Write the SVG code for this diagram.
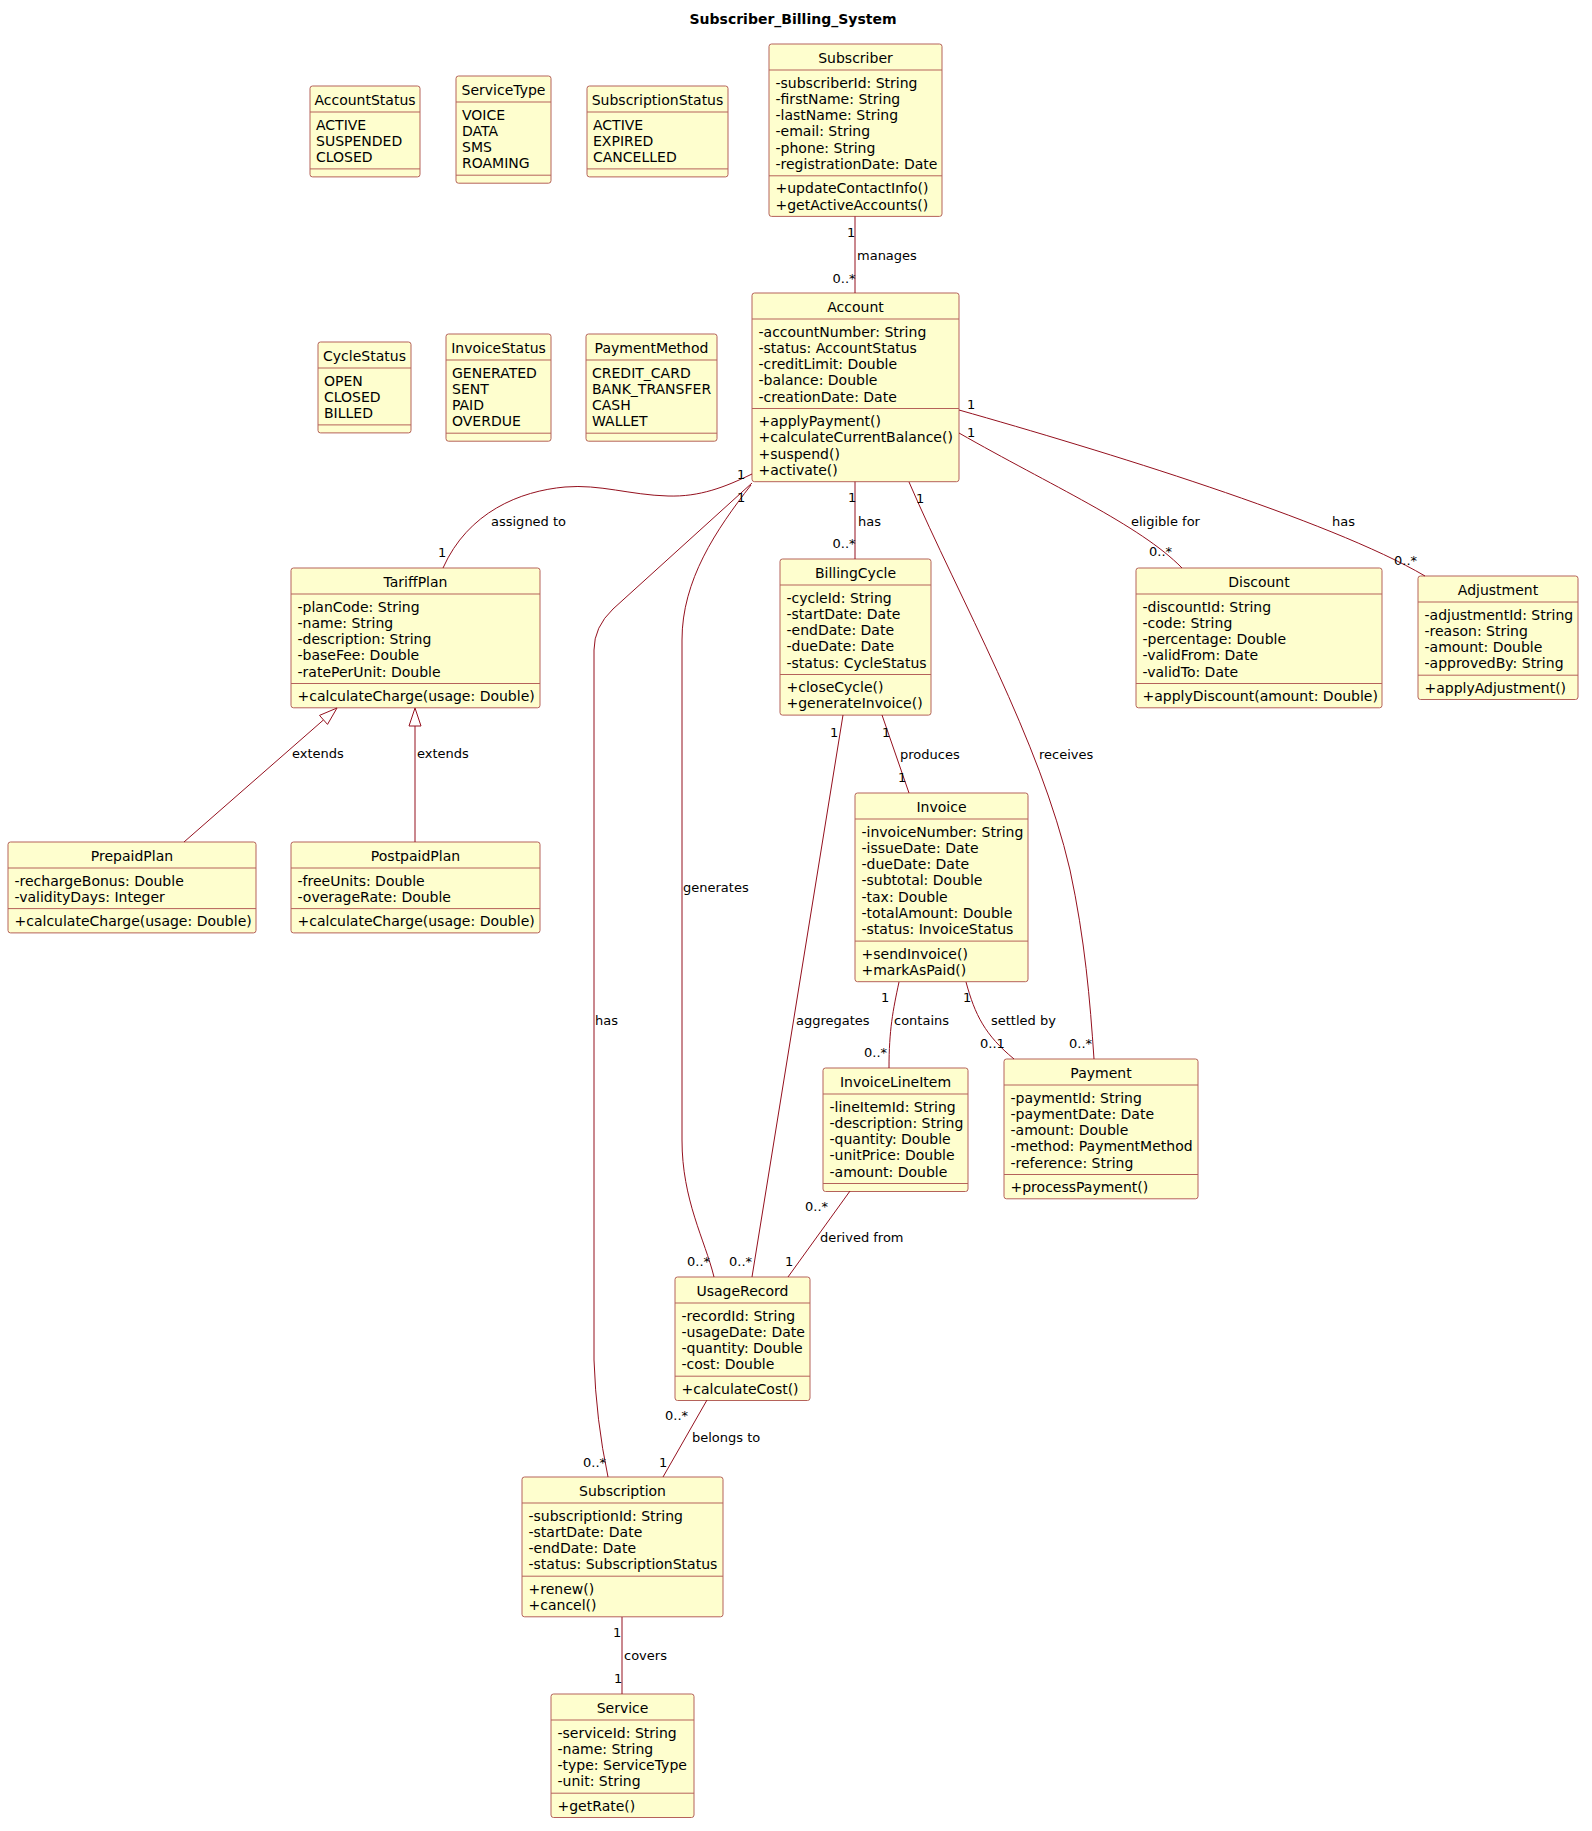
<svg xmlns="http://www.w3.org/2000/svg" width="1592" height="1831" viewBox="0 0 1592 1831">
<style>
.box{fill:#FEFECE;stroke:#B5625A;stroke-width:1}
.sep{stroke:#B5625A;stroke-width:1}
.nm{font-family:"DejaVu Sans",sans-serif;font-size:14px;fill:#000;text-anchor:middle}
.tx{font-family:"DejaVu Sans",sans-serif;font-size:14px;fill:#000}
.lbl{font-family:"DejaVu Sans",sans-serif;font-size:13px;fill:#000}
.ttl{font-family:"DejaVu Sans",sans-serif;font-size:14px;font-weight:bold;fill:#000;text-anchor:middle}
.cn{fill:none;stroke:#94101E;stroke-width:1}
.tri{fill:#FFFFFF;stroke:#94101E;stroke-width:1}
</style>
<rect x="0" y="0" width="1592" height="1831" fill="#FFFFFF"/>
<text class="ttl" x="793" y="23.5">Subscriber_Billing_System</text>

<g id="AccountStatus">
<rect class="box" x="310" y="86" width="110" height="90.9" rx="2.5"/>
<text class="nm" x="365" y="104.5">AccountStatus</text>
<line class="sep" x1="310" y1="112" x2="420" y2="112"/>
<text class="tx" x="316" y="129.5">ACTIVE</text>
<text class="tx" x="316" y="145.8">SUSPENDED</text>
<text class="tx" x="316" y="162.1">CLOSED</text>
<line class="sep" x1="310" y1="168.9" x2="420" y2="168.9"/>
</g>

<g id="ServiceType">
<rect class="box" x="456" y="76" width="95" height="107.2" rx="2.5"/>
<text class="nm" x="503.5" y="94.5">ServiceType</text>
<line class="sep" x1="456" y1="102" x2="551" y2="102"/>
<text class="tx" x="462" y="119.5">VOICE</text>
<text class="tx" x="462" y="135.8">DATA</text>
<text class="tx" x="462" y="152.1">SMS</text>
<text class="tx" x="462" y="168.4">ROAMING</text>
<line class="sep" x1="456" y1="175.2" x2="551" y2="175.2"/>
</g>

<g id="SubscriptionStatus">
<rect class="box" x="587" y="86" width="141" height="90.9" rx="2.5"/>
<text class="nm" x="657.5" y="104.5">SubscriptionStatus</text>
<line class="sep" x1="587" y1="112" x2="728" y2="112"/>
<text class="tx" x="593" y="129.5">ACTIVE</text>
<text class="tx" x="593" y="145.8">EXPIRED</text>
<text class="tx" x="593" y="162.1">CANCELLED</text>
<line class="sep" x1="587" y1="168.9" x2="728" y2="168.9"/>
</g>

<g id="Subscriber">
<rect class="box" x="769" y="44" width="173" height="172.4" rx="2.5"/>
<text class="nm" x="855.5" y="62.5">Subscriber</text>
<line class="sep" x1="769" y1="70" x2="942" y2="70"/>
<text class="tx" x="775.5" y="87.5">-subscriberId: String</text>
<text class="tx" x="775.5" y="103.8">-firstName: String</text>
<text class="tx" x="775.5" y="120.1">-lastName: String</text>
<text class="tx" x="775.5" y="136.4">-email: String</text>
<text class="tx" x="775.5" y="152.7">-phone: String</text>
<text class="tx" x="775.5" y="169">-registrationDate: Date</text>
<line class="sep" x1="769" y1="175.8" x2="942" y2="175.8"/>
<text class="tx" x="775.5" y="193.3">+updateContactInfo()</text>
<text class="tx" x="775.5" y="209.6">+getActiveAccounts()</text>
</g>

<g id="CycleStatus">
<rect class="box" x="318" y="342" width="93" height="90.9" rx="2.5"/>
<text class="nm" x="364.5" y="360.5">CycleStatus</text>
<line class="sep" x1="318" y1="368" x2="411" y2="368"/>
<text class="tx" x="324" y="385.5">OPEN</text>
<text class="tx" x="324" y="401.8">CLOSED</text>
<text class="tx" x="324" y="418.1">BILLED</text>
<line class="sep" x1="318" y1="424.9" x2="411" y2="424.9"/>
</g>

<g id="InvoiceStatus">
<rect class="box" x="446" y="334" width="105" height="107.2" rx="2.5"/>
<text class="nm" x="498.5" y="352.5">InvoiceStatus</text>
<line class="sep" x1="446" y1="360" x2="551" y2="360"/>
<text class="tx" x="452" y="377.5">GENERATED</text>
<text class="tx" x="452" y="393.8">SENT</text>
<text class="tx" x="452" y="410.1">PAID</text>
<text class="tx" x="452" y="426.4">OVERDUE</text>
<line class="sep" x1="446" y1="433.2" x2="551" y2="433.2"/>
</g>

<g id="PaymentMethod">
<rect class="box" x="586" y="334" width="131" height="107.2" rx="2.5"/>
<text class="nm" x="651.5" y="352.5">PaymentMethod</text>
<line class="sep" x1="586" y1="360" x2="717" y2="360"/>
<text class="tx" x="592" y="377.5">CREDIT_CARD</text>
<text class="tx" x="592" y="393.8">BANK_TRANSFER</text>
<text class="tx" x="592" y="410.1">CASH</text>
<text class="tx" x="592" y="426.4">WALLET</text>
<line class="sep" x1="586" y1="433.2" x2="717" y2="433.2"/>
</g>

<g id="Account">
<rect class="box" x="752" y="293" width="207" height="188.7" rx="2.5"/>
<text class="nm" x="855.5" y="311.5">Account</text>
<line class="sep" x1="752" y1="319" x2="959" y2="319"/>
<text class="tx" x="758.5" y="336.5">-accountNumber: String</text>
<text class="tx" x="758.5" y="352.8">-status: AccountStatus</text>
<text class="tx" x="758.5" y="369.1">-creditLimit: Double</text>
<text class="tx" x="758.5" y="385.4">-balance: Double</text>
<text class="tx" x="758.5" y="401.7">-creationDate: Date</text>
<line class="sep" x1="752" y1="408.5" x2="959" y2="408.5"/>
<text class="tx" x="758.5" y="426">+applyPayment()</text>
<text class="tx" x="758.5" y="442.3">+calculateCurrentBalance()</text>
<text class="tx" x="758.5" y="458.6">+suspend()</text>
<text class="tx" x="758.5" y="474.9">+activate()</text>
</g>

<g id="TariffPlan">
<rect class="box" x="291" y="568" width="249" height="139.8" rx="2.5"/>
<text class="nm" x="415.5" y="586.5">TariffPlan</text>
<line class="sep" x1="291" y1="594" x2="540" y2="594"/>
<text class="tx" x="297.5" y="611.5">-planCode: String</text>
<text class="tx" x="297.5" y="627.8">-name: String</text>
<text class="tx" x="297.5" y="644.1">-description: String</text>
<text class="tx" x="297.5" y="660.4">-baseFee: Double</text>
<text class="tx" x="297.5" y="676.7">-ratePerUnit: Double</text>
<line class="sep" x1="291" y1="683.5" x2="540" y2="683.5"/>
<text class="tx" x="297.5" y="701">+calculateCharge(usage: Double)</text>
</g>

<g id="BillingCycle">
<rect class="box" x="780" y="559" width="151" height="156.1" rx="2.5"/>
<text class="nm" x="855.5" y="577.5">BillingCycle</text>
<line class="sep" x1="780" y1="585" x2="931" y2="585"/>
<text class="tx" x="786.5" y="602.5">-cycleId: String</text>
<text class="tx" x="786.5" y="618.8">-startDate: Date</text>
<text class="tx" x="786.5" y="635.1">-endDate: Date</text>
<text class="tx" x="786.5" y="651.4">-dueDate: Date</text>
<text class="tx" x="786.5" y="667.7">-status: CycleStatus</text>
<line class="sep" x1="780" y1="674.5" x2="931" y2="674.5"/>
<text class="tx" x="786.5" y="692">+closeCycle()</text>
<text class="tx" x="786.5" y="708.3">+generateInvoice()</text>
</g>

<g id="Discount">
<rect class="box" x="1136" y="568" width="246" height="139.8" rx="2.5"/>
<text class="nm" x="1259" y="586.5">Discount</text>
<line class="sep" x1="1136" y1="594" x2="1382" y2="594"/>
<text class="tx" x="1142.5" y="611.5">-discountId: String</text>
<text class="tx" x="1142.5" y="627.8">-code: String</text>
<text class="tx" x="1142.5" y="644.1">-percentage: Double</text>
<text class="tx" x="1142.5" y="660.4">-validFrom: Date</text>
<text class="tx" x="1142.5" y="676.7">-validTo: Date</text>
<line class="sep" x1="1136" y1="683.5" x2="1382" y2="683.5"/>
<text class="tx" x="1142.5" y="701">+applyDiscount(amount: Double)</text>
</g>

<g id="Adjustment">
<rect class="box" x="1418" y="576" width="160" height="123.5" rx="2.5"/>
<text class="nm" x="1498" y="594.5">Adjustment</text>
<line class="sep" x1="1418" y1="602" x2="1578" y2="602"/>
<text class="tx" x="1424.5" y="619.5">-adjustmentId: String</text>
<text class="tx" x="1424.5" y="635.8">-reason: String</text>
<text class="tx" x="1424.5" y="652.1">-amount: Double</text>
<text class="tx" x="1424.5" y="668.4">-approvedBy: String</text>
<line class="sep" x1="1418" y1="675.2" x2="1578" y2="675.2"/>
<text class="tx" x="1424.5" y="692.7">+applyAdjustment()</text>
</g>

<g id="PrepaidPlan">
<rect class="box" x="8" y="842" width="248" height="90.9" rx="2.5"/>
<text class="nm" x="132" y="860.5">PrepaidPlan</text>
<line class="sep" x1="8" y1="868" x2="256" y2="868"/>
<text class="tx" x="14.5" y="885.5">-rechargeBonus: Double</text>
<text class="tx" x="14.5" y="901.8">-validityDays: Integer</text>
<line class="sep" x1="8" y1="908.6" x2="256" y2="908.6"/>
<text class="tx" x="14.5" y="926.1">+calculateCharge(usage: Double)</text>
</g>

<g id="PostpaidPlan">
<rect class="box" x="291" y="842" width="249" height="90.9" rx="2.5"/>
<text class="nm" x="415.5" y="860.5">PostpaidPlan</text>
<line class="sep" x1="291" y1="868" x2="540" y2="868"/>
<text class="tx" x="297.5" y="885.5">-freeUnits: Double</text>
<text class="tx" x="297.5" y="901.8">-overageRate: Double</text>
<line class="sep" x1="291" y1="908.6" x2="540" y2="908.6"/>
<text class="tx" x="297.5" y="926.1">+calculateCharge(usage: Double)</text>
</g>

<g id="Invoice">
<rect class="box" x="855" y="793" width="173" height="188.7" rx="2.5"/>
<text class="nm" x="941.5" y="811.5">Invoice</text>
<line class="sep" x1="855" y1="819" x2="1028" y2="819"/>
<text class="tx" x="861.5" y="836.5">-invoiceNumber: String</text>
<text class="tx" x="861.5" y="852.8">-issueDate: Date</text>
<text class="tx" x="861.5" y="869.1">-dueDate: Date</text>
<text class="tx" x="861.5" y="885.4">-subtotal: Double</text>
<text class="tx" x="861.5" y="901.7">-tax: Double</text>
<text class="tx" x="861.5" y="918">-totalAmount: Double</text>
<text class="tx" x="861.5" y="934.3">-status: InvoiceStatus</text>
<line class="sep" x1="855" y1="941.1" x2="1028" y2="941.1"/>
<text class="tx" x="861.5" y="958.6">+sendInvoice()</text>
<text class="tx" x="861.5" y="974.9">+markAsPaid()</text>
</g>

<g id="InvoiceLineItem">
<rect class="box" x="823" y="1068" width="145" height="123.5" rx="2.5"/>
<text class="nm" x="895.5" y="1086.5">InvoiceLineItem</text>
<line class="sep" x1="823" y1="1094" x2="968" y2="1094"/>
<text class="tx" x="829.5" y="1111.5">-lineItemId: String</text>
<text class="tx" x="829.5" y="1127.8">-description: String</text>
<text class="tx" x="829.5" y="1144.1">-quantity: Double</text>
<text class="tx" x="829.5" y="1160.4">-unitPrice: Double</text>
<text class="tx" x="829.5" y="1176.7">-amount: Double</text>
<line class="sep" x1="823" y1="1183.5" x2="968" y2="1183.5"/>
</g>

<g id="Payment">
<rect class="box" x="1004" y="1059" width="194" height="139.8" rx="2.5"/>
<text class="nm" x="1101" y="1077.5">Payment</text>
<line class="sep" x1="1004" y1="1085" x2="1198" y2="1085"/>
<text class="tx" x="1010.5" y="1102.5">-paymentId: String</text>
<text class="tx" x="1010.5" y="1118.8">-paymentDate: Date</text>
<text class="tx" x="1010.5" y="1135.1">-amount: Double</text>
<text class="tx" x="1010.5" y="1151.4">-method: PaymentMethod</text>
<text class="tx" x="1010.5" y="1167.7">-reference: String</text>
<line class="sep" x1="1004" y1="1174.5" x2="1198" y2="1174.5"/>
<text class="tx" x="1010.5" y="1192">+processPayment()</text>
</g>

<g id="UsageRecord">
<rect class="box" x="675" y="1277" width="135" height="123.5" rx="2.5"/>
<text class="nm" x="742.5" y="1295.5">UsageRecord</text>
<line class="sep" x1="675" y1="1303" x2="810" y2="1303"/>
<text class="tx" x="681.5" y="1320.5">-recordId: String</text>
<text class="tx" x="681.5" y="1336.8">-usageDate: Date</text>
<text class="tx" x="681.5" y="1353.1">-quantity: Double</text>
<text class="tx" x="681.5" y="1369.4">-cost: Double</text>
<line class="sep" x1="675" y1="1376.2" x2="810" y2="1376.2"/>
<text class="tx" x="681.5" y="1393.7">+calculateCost()</text>
</g>

<g id="Subscription">
<rect class="box" x="522" y="1477" width="201" height="139.8" rx="2.5"/>
<text class="nm" x="622.5" y="1495.5">Subscription</text>
<line class="sep" x1="522" y1="1503" x2="723" y2="1503"/>
<text class="tx" x="528.5" y="1520.5">-subscriptionId: String</text>
<text class="tx" x="528.5" y="1536.8">-startDate: Date</text>
<text class="tx" x="528.5" y="1553.1">-endDate: Date</text>
<text class="tx" x="528.5" y="1569.4">-status: SubscriptionStatus</text>
<line class="sep" x1="522" y1="1576.2" x2="723" y2="1576.2"/>
<text class="tx" x="528.5" y="1593.7">+renew()</text>
<text class="tx" x="528.5" y="1610">+cancel()</text>
</g>

<g id="Service">
<rect class="box" x="551" y="1694" width="143" height="123.5" rx="2.5"/>
<text class="nm" x="622.5" y="1712.5">Service</text>
<line class="sep" x1="551" y1="1720" x2="694" y2="1720"/>
<text class="tx" x="557.5" y="1737.5">-serviceId: String</text>
<text class="tx" x="557.5" y="1753.8">-name: String</text>
<text class="tx" x="557.5" y="1770.1">-type: ServiceType</text>
<text class="tx" x="557.5" y="1786.4">-unit: String</text>
<line class="sep" x1="551" y1="1793.2" x2="694" y2="1793.2"/>
<text class="tx" x="557.5" y="1810.7">+getRate()</text>
</g>

<g id="connectors">
<path class="cn" d="M855,216.4 L855,293"/>
<path class="cn" d="M752,474 C725,487 700,497 668,496 C630,495 600,484 565,487 C520,491 468,512 443,568"/>
<path class="cn" d="M752,483 L613,609 Q594,627 594,650 L594,1360 Q596,1420 608,1477"/>
<path class="cn" d="M751,485 C716,530 682,580 682,640 L682,1140 C682,1200 705,1240 714,1277"/>
<path class="cn" d="M855,481.7 L855,559"/>
<path class="cn" d="M909,482 C960,600 1040,740 1070,870 C1085,940 1090,1000 1094,1059"/>
<path class="cn" d="M959,433 C1050,485 1140,525 1182,568"/>
<path class="cn" d="M959,410 C1100,450 1330,520 1425,576"/>
<path class="cn" d="M184,842 L323.5,719.9"/>
<polygon class="tri" points="337,708 327.5,724.4 319.5,715.4"/>
<path class="cn" d="M415,842 L415,726"/>
<polygon class="tri" points="415,708 421,726 409,726"/>
<path class="cn" d="M882,715 L909,793"/>
<path class="cn" d="M843,715 L752,1277"/>
<path class="cn" d="M899,982 C893,1010 889,1030 889,1068"/>
<path class="cn" d="M966,982 C975,1015 985,1035 1014,1059"/>
<path class="cn" d="M850,1191 L788,1277"/>
<path class="cn" d="M707,1400 L663,1477"/>
<path class="cn" d="M622,1617 L622,1694"/>

<text class="lbl" x="847" y="237">1</text>
<text class="lbl" x="857" y="260">manages</text>
<text class="lbl" x="832.5" y="283">0..*</text>

<text class="lbl" x="737" y="479">1</text>
<text class="lbl" x="491" y="526">assigned to</text>
<text class="lbl" x="438" y="557">1</text>

<text class="lbl" x="737" y="502">1</text>
<text class="lbl" x="595" y="1025">has</text>
<text class="lbl" x="583" y="1467">0..*</text>

<text class="lbl" x="683" y="892">generates</text>
<text class="lbl" x="687" y="1266">0..*</text>

<text class="lbl" x="848" y="502">1</text>
<text class="lbl" x="858" y="526">has</text>
<text class="lbl" x="832.5" y="548">0..*</text>

<text class="lbl" x="916" y="502.5">1</text>
<text class="lbl" x="1039" y="759">receives</text>
<text class="lbl" x="1069" y="1048">0..*</text>

<text class="lbl" x="967" y="437">1</text>
<text class="lbl" x="1131" y="526">eligible for</text>
<text class="lbl" x="1149" y="556">0..*</text>

<text class="lbl" x="967" y="409">1</text>
<text class="lbl" x="1332" y="526">has</text>
<text class="lbl" x="1394" y="565">0..*</text>

<text class="lbl" x="292" y="758">extends</text>
<text class="lbl" x="417" y="758">extends</text>

<text class="lbl" x="882" y="737">1</text>
<text class="lbl" x="900" y="759">produces</text>
<text class="lbl" x="898" y="782">1</text>

<text class="lbl" x="830" y="737">1</text>
<text class="lbl" x="796" y="1025">aggregates</text>
<text class="lbl" x="729" y="1266">0..*</text>

<text class="lbl" x="881" y="1002">1</text>
<text class="lbl" x="894" y="1025">contains</text>
<text class="lbl" x="864" y="1057">0..*</text>

<text class="lbl" x="963" y="1002">1</text>
<text class="lbl" x="991" y="1025">settled by</text>
<text class="lbl" x="980" y="1048">0..1</text>

<text class="lbl" x="805" y="1211">0..*</text>
<text class="lbl" x="820" y="1242">derived from</text>
<text class="lbl" x="785" y="1266">1</text>

<text class="lbl" x="665" y="1420">0..*</text>
<text class="lbl" x="692" y="1442">belongs to</text>
<text class="lbl" x="659" y="1467">1</text>

<text class="lbl" x="613" y="1637">1</text>
<text class="lbl" x="624" y="1660">covers</text>
<text class="lbl" x="614" y="1683">1</text>
</g>
</svg>
